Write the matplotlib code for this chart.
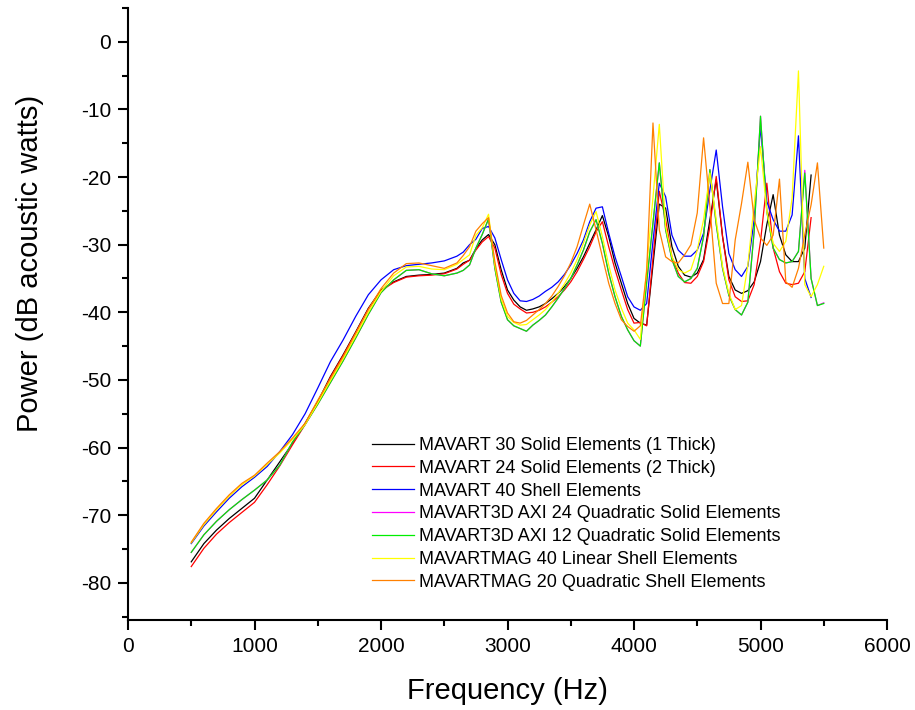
import matplotlib
matplotlib.use("Agg")
import matplotlib.pyplot as plt
from matplotlib.ticker import MultipleLocator

plt.rcParams['font.family'] = ['Liberation Sans', 'DejaVu Sans']
plt.rcParams['axes.unicode_minus'] = False

# frequency grid (Hz): 100 Hz steps below 2600, 50 Hz steps above
freq_low = [500, 600, 700, 800, 900, 1000, 1100, 1200, 1300, 1400, 1500,
            1600, 1700, 1800, 1900, 2000, 2100, 2200, 2300, 2400, 2500, 2600]
freq_high = [2650, 2700, 2750, 2800, 2850, 2900, 2950, 3000, 3050, 3100,
             3150, 3200, 3250, 3300, 3350, 3400, 3450, 3500, 3550, 3600,
             3650, 3700, 3750, 3800, 3850, 3900, 3950, 4000, 4050, 4100,
             4150, 4200, 4250, 4300, 4350, 4400, 4450, 4500, 4550, 4600,
             4650, 4700, 4750, 4800, 4850, 4900, 4950, 5000, 5050, 5100,
             5150, 5200, 5250, 5300, 5350, 5400, 5450, 5500]
freq_full = freq_low + freq_high
freq_5400 = freq_full[:-2]

solid30 = [-76.9, -74.2, -72.2, -70.5, -69.0, -67.5, -64.8, -62.1, -59.4, -56.4, -53.2,
           -49.5, -46.3, -42.9, -39.4, -36.7, -35.5, -34.7, -34.5, -34.4, -34.2, -33.5,
           -32.7, -32.3, -30.6, -29.3, -28.5, -30.0, -33.7, -36.7, -38.2, -39.2,
           -39.7, -39.5, -39.2, -38.7, -38.0, -37.2, -36.2, -35.0, -33.5, -31.8,
           -29.8, -27.8, -25.7, -28.8, -32.7, -35.7, -38.7, -40.9, -41.6, -41.9,
           -33.0, -24.0, -24.6, -30.3, -33.2, -34.5, -34.8, -34.2, -32.2, -26.3,
           -20.4, -28.8, -34.7, -36.7, -37.2, -36.8, -35.5, -32.5, -27.0, -22.6,
           -28.6, -31.5, -32.5, -32.5, -30.5, -19.7]

solid24 = [-77.6, -74.9, -72.8, -71.1, -69.6, -68.1, -65.5, -62.7, -59.6, -56.6, -53.4,
           -49.6, -46.4, -43.0, -39.5, -36.8, -35.6, -34.8, -34.6, -34.5, -34.3, -33.6,
           -32.9, -32.3, -30.8, -29.6, -28.8, -30.5, -34.4, -37.2, -38.8, -39.5,
           -40.1, -40.0, -39.7, -39.2, -38.5, -37.7, -36.7, -35.5, -34.0, -32.2,
           -30.3, -28.1, -26.6, -30.3, -33.7, -36.7, -39.6, -41.6, -41.5, -42.0,
           -32.0, -22.1, -26.3, -31.8, -34.2, -35.6, -35.7, -34.7, -32.5, -27.3,
           -19.9, -28.8, -35.2, -37.7, -38.4, -38.3, -35.9, -29.5, -20.9, -30.5,
           -34.0, -35.7, -35.9, -35.7, -34.0, -26.0]

shell40 = [-74.2, -71.6, -69.5, -67.5, -65.8, -64.4, -62.8, -60.6, -58.1, -55.0, -51.2,
           -47.3, -44.1, -40.6, -37.4, -35.2, -33.7, -33.1, -32.9, -32.7, -32.4, -31.7,
           -31.1, -30.0, -29.2, -27.6, -27.3, -29.0, -32.2, -35.2, -37.2, -38.3,
           -38.4, -38.1, -37.6, -36.9, -36.3, -35.5, -34.4, -33.0, -31.3, -29.3,
           -26.6, -24.6, -24.4, -28.3, -31.8, -34.7, -37.7, -39.2, -39.7, -38.7,
           -29.5, -20.9, -22.9, -28.6, -30.8, -31.7, -31.7, -30.8, -28.3, -21.9,
           -16.0, -24.4, -31.3, -33.7, -34.7, -33.2, -26.3, -12.5, -23.6, -26.3,
           -28.0, -28.0, -25.6, -13.9, -35.0, -37.8]

axi24 = [-75.5, -72.9, -70.9, -69.2, -67.7, -66.3, -64.8, -62.6, -59.2, -56.6, -53.6,
         -50.4, -47.2, -43.8, -40.3, -37.1, -35.2, -33.8, -33.7, -34.3, -34.6, -34.2,
         -33.8, -33.0, -30.5, -28.5, -26.2, -33.5, -38.5, -41.1, -42.0, -42.4,
         -42.8, -41.9, -41.2, -40.4, -39.2, -37.9, -36.5, -35.0, -33.0, -30.8,
         -28.1, -26.3, -29.8, -34.2, -37.7, -40.6, -42.6, -44.2, -45.0, -35.6,
         -26.8, -17.9, -27.8, -32.2, -34.7, -35.5, -35.0, -33.5, -28.8, -18.9,
         -27.0, -33.5, -37.5, -39.6, -40.4, -38.5, -28.0, -11.0, -25.1, -30.5,
         -32.2, -32.7, -32.5, -31.0, -19.0, -35.0, -39.0, -38.6]

axi12 = [-75.5, -72.9, -70.9, -69.2, -67.7, -66.3, -64.8, -62.6, -59.2, -56.6, -53.6,
         -50.4, -47.2, -43.8, -40.3, -37.1, -35.2, -33.8, -33.7, -34.3, -34.6, -34.2,
         -33.8, -33.0, -30.5, -28.5, -26.2, -33.5, -38.5, -41.1, -42.0, -42.4,
         -42.8, -41.9, -41.2, -40.4, -39.2, -37.9, -36.5, -35.0, -33.0, -30.8,
         -28.1, -26.3, -29.8, -34.2, -37.7, -40.6, -42.6, -44.2, -45.0, -35.6,
         -26.8, -17.9, -27.8, -32.2, -34.7, -35.5, -35.0, -33.5, -28.8, -18.9,
         -27.0, -33.5, -37.5, -39.6, -40.4, -38.5, -28.0, -11.0, -25.1, -30.5,
         -32.2, -32.7, -32.5, -31.0, -19.4, -35.0, -39.0, -38.7]

mag40 = [-74.1, -71.4, -69.2, -67.2, -65.5, -64.2, -62.5, -60.8, -58.8, -56.6, -53.4,
         -50.1, -46.9, -43.5, -40.0, -36.9, -34.6, -33.3, -33.2, -33.6, -33.7, -32.9,
         -32.2, -31.5, -28.6, -27.5, -25.5, -33.0, -38.0, -40.6, -41.5, -41.9,
         -41.8, -41.1, -40.4, -39.6, -38.5, -37.2, -35.8, -34.2, -32.2, -29.8,
         -27.1, -25.1, -28.8, -33.0, -36.7, -39.4, -41.6, -42.6, -44.0, -33.5,
         -23.0, -12.2, -27.3, -31.8, -33.7, -34.2, -33.7, -30.8, -26.3, -19.4,
         -26.3, -33.2, -37.2, -39.6, -39.0, -33.0, -24.0, -15.5, -25.1, -29.8,
         -31.0, -29.5, -23.1, -4.3, -35.9, -37.7, -35.9, -33.2]

mag20 = [-74.0, -71.2, -69.0, -67.0, -65.3, -64.1, -62.3, -60.6, -58.6, -56.4, -53.0,
         -49.8, -46.6, -43.1, -39.6, -36.5, -34.2, -32.8, -32.7, -33.1, -33.5, -32.7,
         -31.6, -30.3, -28.0, -26.9, -26.0, -32.5, -37.5, -40.1, -41.4, -41.6,
         -41.2, -40.4, -39.6, -38.7, -37.6, -36.2, -34.6, -32.7, -30.3, -27.1,
         -24.0, -27.8, -31.8, -35.7, -38.7, -41.1, -42.1, -42.8, -42.0, -34.0,
         -12.0, -27.8, -31.8, -32.5, -32.7, -31.5, -30.0, -25.3, -14.2, -24.4,
         -35.7, -38.7, -38.7, -29.3, -23.9, -17.8, -26.3, -29.0, -30.1, -28.6,
         -20.3, -35.5, -36.3, -33.5, -28.5, -24.1, -17.9, -30.5]

series = [
    ("MAVART 30 Solid Elements (1 Thick)", freq_5400, solid30, "#000000"),
    ("MAVART 24 Solid Elements (2 Thick)", freq_5400, solid24, "#ff0000"),
    ("MAVART 40 Shell Elements", freq_5400, shell40, "#0000ff"),
    ("MAVART3D AXI 24 Quadratic Solid Elements", freq_full, axi24, "#ff00ff"),
    ("MAVART3D AXI 12 Quadratic Solid Elements", freq_full, axi12, "#00ee00"),
    ("MAVARTMAG 40 Linear Shell Elements", freq_full, mag40, "#ffff00"),
    ("MAVARTMAG 20 Quadratic Shell Elements", freq_full, mag20, "#ff8000"),
]

fig = plt.figure(figsize=(9.15, 7.10), dpi=100)
ax = fig.add_axes([0.1399, 0.1268, 0.8295, 0.8619])

for label, f, p, c in series:
    ax.plot(f, p, color=c, lw=0.9, label=label)

ax.set_xlim(0, 6000)
ax.set_ylim(-85.5, 5)
ax.xaxis.set_major_locator(MultipleLocator(1000))
ax.xaxis.set_minor_locator(MultipleLocator(500))
ax.yaxis.set_major_locator(MultipleLocator(10))
ax.yaxis.set_minor_locator(MultipleLocator(5))
ax.set_yticks(range(-80, 1, 10))

for s in ['top', 'right']:
    ax.spines[s].set_visible(False)
for s in ['left', 'bottom']:
    ax.spines[s].set_linewidth(1.5)

ax.tick_params(which='major', direction='out', length=7, width=1.5, labelsize=15, pad=5)
ax.tick_params(which='minor', direction='out', length=4, width=1.5)

ax.set_xlabel("Frequency (Hz)", fontsize=21)
ax.set_ylabel("Power (dB acoustic watts)", fontsize=21)
ax.xaxis.set_label_coords(0.5, -0.093)
ax.yaxis.set_label_coords(-0.111, 0.583)

ax.legend(loc='upper left', bbox_to_anchor=(372 / 915, 1 - 437 / 710),
          bbox_transform=fig.transFigure, frameon=False, fontsize=13,
          handlelength=2.3, handletextpad=0.33, labelspacing=0.32,
          borderpad=0, borderaxespad=0)

fig.savefig("out.png", dpi=100)
